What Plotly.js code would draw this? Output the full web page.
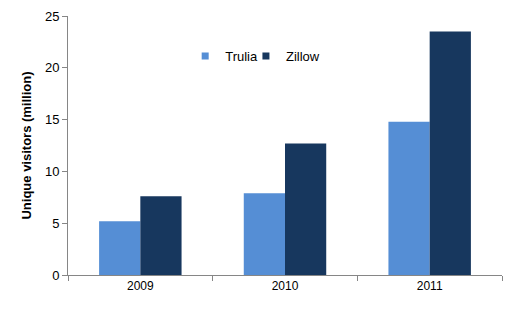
<!DOCTYPE html>
<html>
<head>
<meta charset="utf-8">
<script src="https://cdn.plot.ly/plotly-3.0.1.min.js"></script>
<style>html,body{margin:0;padding:0;background:#fff;}#chart{width:518px;height:311px;}</style>
</head>
<body>
<div id="chart"></div>
<script>
var years = ["2009", "2010", "2011"];
var trulia = [5.2, 7.9, 14.8];
var zillow = [7.6, 12.7, 23.5];
var yTicks = [0, 5, 10, 15, 20, 25];
var seriesNames = ["Trulia", "Zillow"];
var seriesColors = ["#558ED5", "#17375E"];
var legendIds = ["legend", "legend2"];

var data = [
  {type: "bar", name: seriesNames[0], x: years, y: trulia, marker: {color: seriesColors[0]}, showlegend: false},
  {type: "bar", name: seriesNames[1], x: years, y: zillow, marker: {color: seriesColors[1]}, showlegend: false}
];
seriesNames.forEach(function (n, i) {
  data.push({type: "scatter", mode: "markers", name: n, x: [null], y: [null], legend: legendIds[i],
             marker: {symbol: "square", size: 7, color: seriesColors[i]}, showlegend: true});
});
var legendStyle = function (xpos) {
  return {orientation: "h", x: xpos, xanchor: "left", y: 0.845, yanchor: "middle",
          itemwidth: 30, font: {size: 13, color: "#000"}, bgcolor: "rgba(0,0,0,0)"};
};
var layout = {
  width: 518, height: 311,
  margin: {l: 68, r: 16, t: 16, b: 36},
  paper_bgcolor: "#fff", plot_bgcolor: "#fff",
  font: {family: "Liberation Sans, Arial, sans-serif", size: 12, color: "#404040"},
  barmode: "group",
  bargap: 0.43,
  bargroupgap: 0,
  showlegend: true,
  legend: legendStyle(0.270),
  legend2: legendStyle(0.410),
  xaxis: {
    type: "category",
    showline: true, linecolor: "#868686", linewidth: 1,
    ticks: "outside", tickson: "boundaries", ticklen: 5, tickcolor: "#868686",
    showgrid: false, zeroline: false,
    tickfont: {size: 12, color: "#000"}
  },
  yaxis: {
    range: [0, 25],
    tickvals: yTicks,
    ticktext: yTicks.map(String),
    showline: true, linecolor: "#868686", linewidth: 1,
    ticks: "outside", ticklen: 5, tickcolor: "#868686",
    showgrid: false, zeroline: false,
    tickfont: {size: 13, color: "#000"},
    title: {text: "<b>Unique visitors (million)</b>", font: {size: 13, color: "#000"}, standoff: 10}
  }
};
Plotly.newPlot("chart", data, layout, {displayModeBar: false, staticPlot: true});
</script>
</body>
</html>
